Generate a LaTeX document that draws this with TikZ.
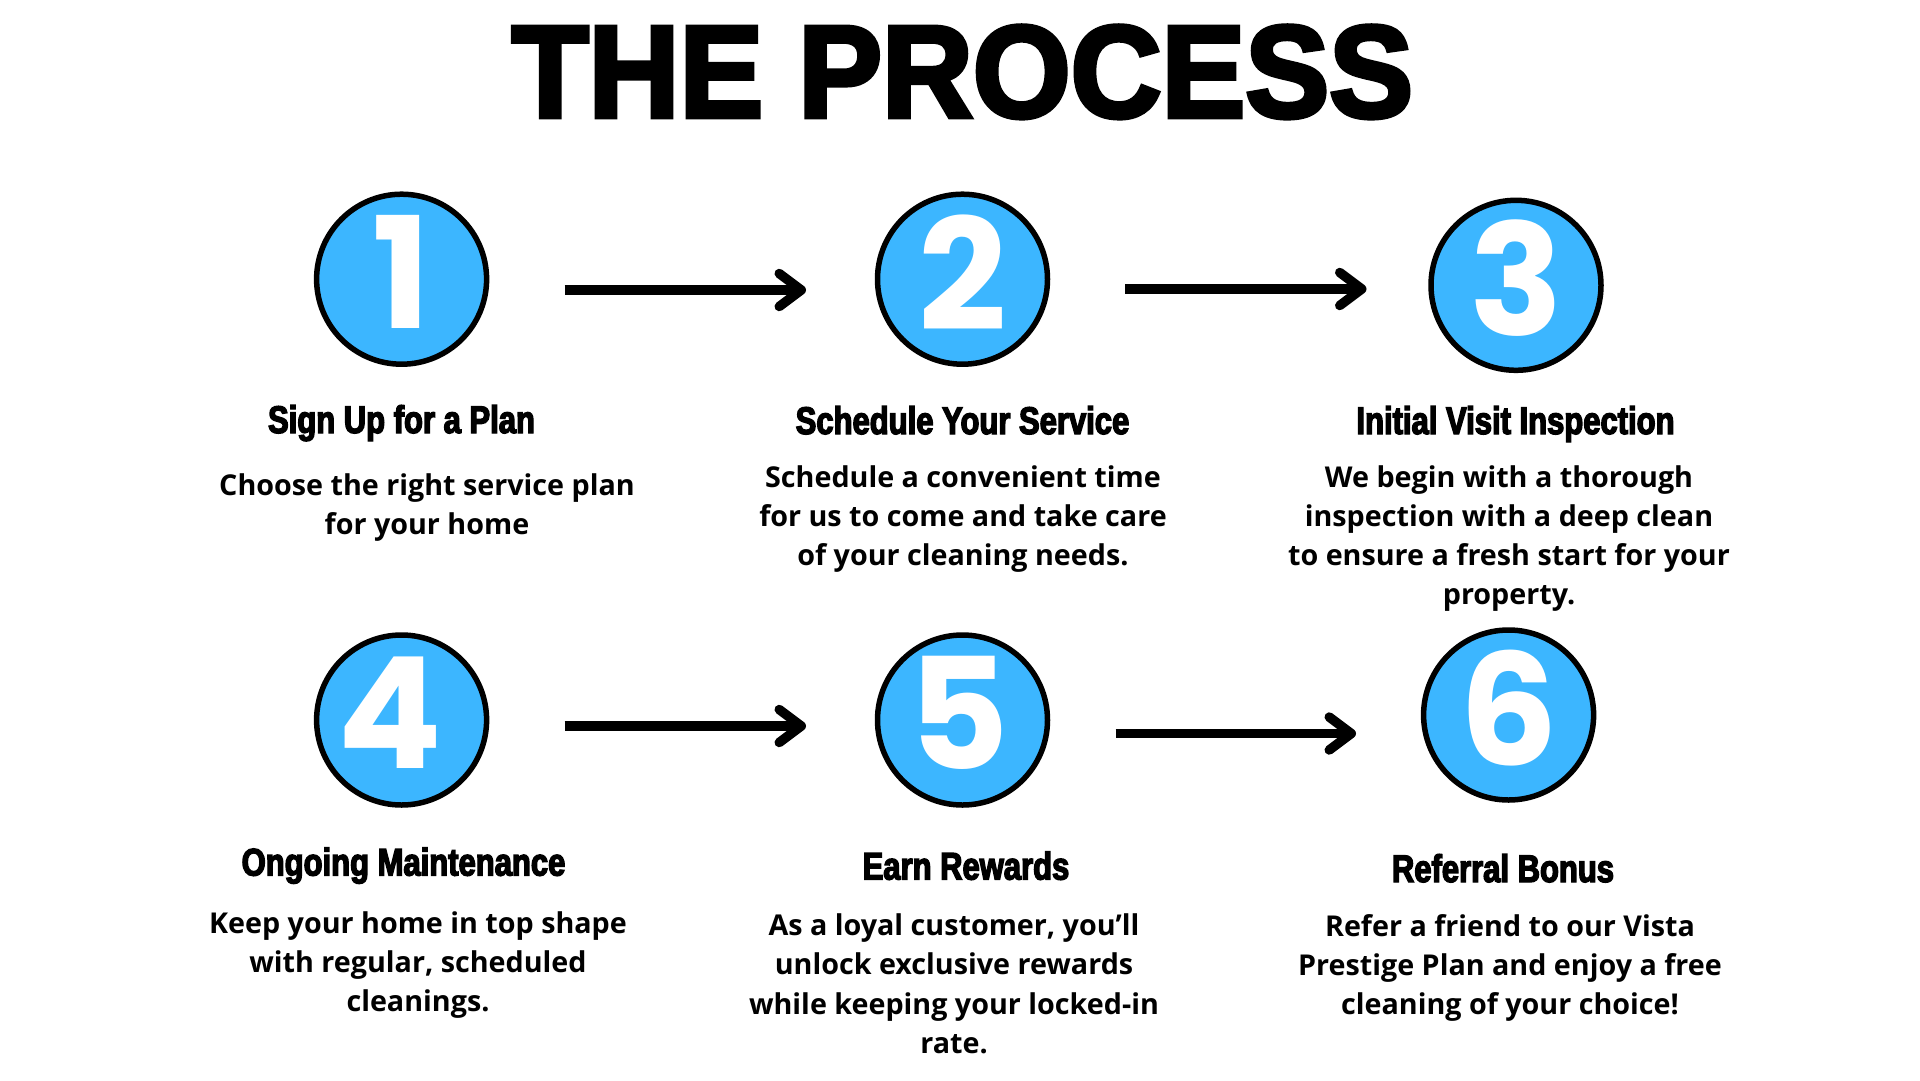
\documentclass[tikz,border=0pt]{standalone}
\usepackage{fontspec}
\usetikzlibrary{arrows.meta}
\newfontfamily\titlefont{Liberation Sans Bold}[FakeStretch=0.96, FakeBold=3.5]
\newfontfamily\headfont{Liberation Sans Bold}[FakeStretch=0.805, FakeBold=3.5]
\newfontfamily\numfont{Poppins}
\newfontfamily\bodyfont{Open Sans}
\definecolor{cblue}{RGB}{60,182,255}
\tikzset{
  circ/.style={circle, draw=black, line width=5.5pt, fill=cblue, minimum size=170pt, inner sep=0pt},
  num/.style={text=white, font=\numfont\bfseries\fontsize{155}{155}\selectfont, inner sep=0pt},
  head/.style={font=\headfont\fontsize{38.5}{40}\selectfont, inner sep=0pt, anchor=base},
  body/.style={font=\bodyfont\bfseries\fontsize{28.7}{39.3}\selectfont, align=center, inner sep=0pt, anchor=north},
  flow/.style={line width=9.5pt, -{Straight Barb[length=22pt,width=33pt,round]}}
}
\begin{document}
\begin{tikzpicture}[x=1pt,y=-1pt]
\fill[white] (0,0) rectangle (1920,1080);
\useasboundingbox (0,0) rectangle (1920,1080);

\node[font=\titlefont\fontsize{131}{131}\selectfont, anchor=base, inner sep=0pt] (title) at (962.5,117) {THE PROCESS};

\node[circ] (c1) at (401.6,279.2) {};
\node[circ] (c2) at (962.5,279.2) {};
\node[circ] (c3) at (1516,285.3) {};
\node[circ] (c4) at (401.6,720) {};
\node[circ] (c5) at (962.5,720) {};
\node[circ] (c6) at (1508.6,715) {};

\node[num] (n1) at ([yshift=7pt]c1.center) {1};
\node[num] (n2) at ([yshift=7pt]c2.center) {2};
\node[num] (n3) at ([yshift=7pt]c3.center) {3};
\node[num] (n4) at ([xshift=-12pt,yshift=7pt]c4.center) {4};
\node[num] (n5) at ([xshift=-4pt,yshift=7pt]c5.center) {5};
\node[num] (n6) at ([yshift=7pt]c6.center) {6};

\coordinate (a1s) at (564.5,290);
\coordinate (a1e) at (806,290);
\coordinate (a2s) at (1125,289);
\coordinate (a2e) at (1366.5,289);
\coordinate (a3s) at (564.5,726);
\coordinate (a3e) at (806,726);
\coordinate (a4s) at (1115.5,733.5);
\coordinate (a4e) at (1356,733.5);
\draw[flow] (a1s) -- (a1e);
\draw[flow] (a2s) -- (a2e);
\draw[flow] (a3s) -- (a3e);
\draw[flow] (a4s) -- (a4e);

\node[head] (h1) at (401.5,433) {Sign Up for a Plan};
\node[head] (h2) at (962.5,434) {Schedule Your Service};
\node[head] (h3) at (1515.5,434) {Initial Visit Inspection};
\node[head] (h4) at (403.5,875.5) {Ongoing Maintenance};
\node[head] (h5) at (966,879.5) {Earn Rewards};
\node[head] (h6) at (1503,882) {Referral Bonus};

\node[body] (b1) at (427,473.5) {Choose the right service plan\\for your home};
\node[body] (b2) at (963,465) {Schedule a convenient time\\for us to come and take care\\of your cleaning needs.};
\node[body] (b3) at (1509,465) {We begin with a thorough\\inspection with a deep clean\\to ensure a fresh start for your\\property.};
\node[body] (b4) at (418,911) {Keep your home in top shape\\with regular, scheduled\\cleanings.};
\node[body] (b5) at (954,913.5) {As a loyal customer, you’ll\\unlock exclusive rewards\\while keeping your locked-in\\rate.};
\node[body] (b6) at (1510,914) {Refer a friend to our Vista\\Prestige Plan and enjoy a free\\cleaning of your choice!};
\end{tikzpicture}
\end{document}
